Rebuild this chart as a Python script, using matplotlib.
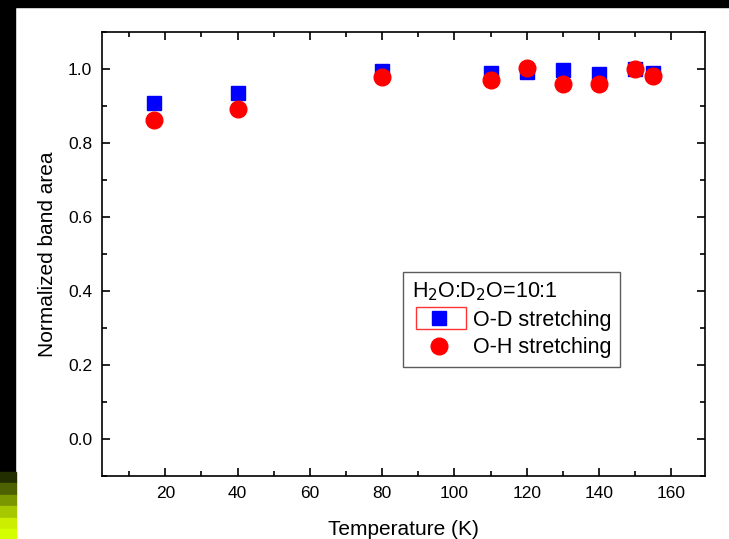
import matplotlib.pyplot as plt
from matplotlib.patches import Rectangle
from matplotlib.ticker import MultipleLocator

plt.rcParams['font.family'] = ['Liberation Sans', 'DejaVu Sans']

# data
temp_od = [17, 40, 80, 110, 120, 130, 140, 150, 155]
area_od = [0.908, 0.935, 0.995, 0.99, 0.993, 0.996, 0.987, 1.0, 0.99]
temp_oh = [17, 40, 80, 110, 120, 130, 140, 150, 155]
area_oh = [0.862, 0.893, 0.978, 0.97, 1.003, 0.96, 0.96, 1.0, 0.982]

W, H = 729, 539
fig = plt.figure(figsize=(W / 100, H / 100), dpi=100)
ax = fig.add_axes([102 / W, 1 - 476 / H, 603 / W, 444 / H])

ax.plot(temp_od, area_od, 's', color='#0000ff', ms=10.5, mec='#0000ff', label='O-D stretching', zorder=3)
ax.plot(temp_oh, area_oh, 'o', color='#ff0000', ms=12, mec='#ff0000', label='O-H stretching', zorder=4)

ax.set_xlim(2.5, 169.3)
ax.set_ylim(-0.1, 1.1)
ax.xaxis.set_minor_locator(MultipleLocator(10))
ax.yaxis.set_major_locator(MultipleLocator(0.2))
ax.yaxis.set_minor_locator(MultipleLocator(0.1))
ax.set_xticks(range(20, 161, 20))
ax.tick_params(which='both', direction='in', top=True, right=True, labelsize=12.5, width=1.2)
ax.tick_params(which='major', length=6, pad=7)
ax.tick_params(which='minor', length=3.5)
for s in ax.spines.values():
    s.set_linewidth(1.2)
ax.yaxis.set_major_formatter(plt.FuncFormatter(lambda v, p: f'{v:.1f}'))

ax.set_xlabel('Temperature (K)', fontsize=15, labelpad=14)
ax.set_ylabel('Normalized band area', fontsize=15, labelpad=8)

leg = ax.legend(title='H$_2$O:D$_2$O=10:1', loc='upper left',
                bbox_to_anchor=(403 / W, 1 - 272 / H), bbox_transform=fig.transFigure,
                borderaxespad=0, frameon=True, fancybox=False, edgecolor='#333333',
                fontsize=15.5, title_fontsize=15.5, handlelength=2.5, handletextpad=0.35,
                borderpad=0.4, labelspacing=0.3)
leg._legend_box.align = 'left'
leg.get_frame().set_linewidth(1.0)

# red box around the first legend marker
fig.canvas.draw()
r = fig.canvas.get_renderer()
hb = leg.legend_handles[0].get_window_extent(r)
cx, cy = (hb.x0 + hb.x1) / 2, (hb.y0 + hb.y1) / 2
fig.patches.append(Rectangle(((cx - 23) / W, (cy - 11) / H), 50 / W, 22 / H,
                             transform=fig.transFigure, fill=False, edgecolor='#ff3333',
                             lw=1.0, zorder=10))

# black slide border
fig.patches.append(Rectangle((0, 1 - 7 / H), 1, 7 / H, transform=fig.transFigure, color='black', zorder=0))
fig.patches.append(Rectangle((0, 0), 15 / W, 1, transform=fig.transFigure, color='black', zorder=0))
grad = ['#222e00', '#4d6100', '#7a9600', '#a6c800', '#ccee00', '#d4ff00']
edges = [472, 483, 495, 506, 518, 529, 539]
for i, c in enumerate(grad):
    fig.patches.append(Rectangle((0, 1 - edges[i + 1] / H), 16 / W, (edges[i + 1] - edges[i]) / H,
                                 transform=fig.transFigure, color=c, zorder=1))

fig.savefig('out.png', dpi=100)
